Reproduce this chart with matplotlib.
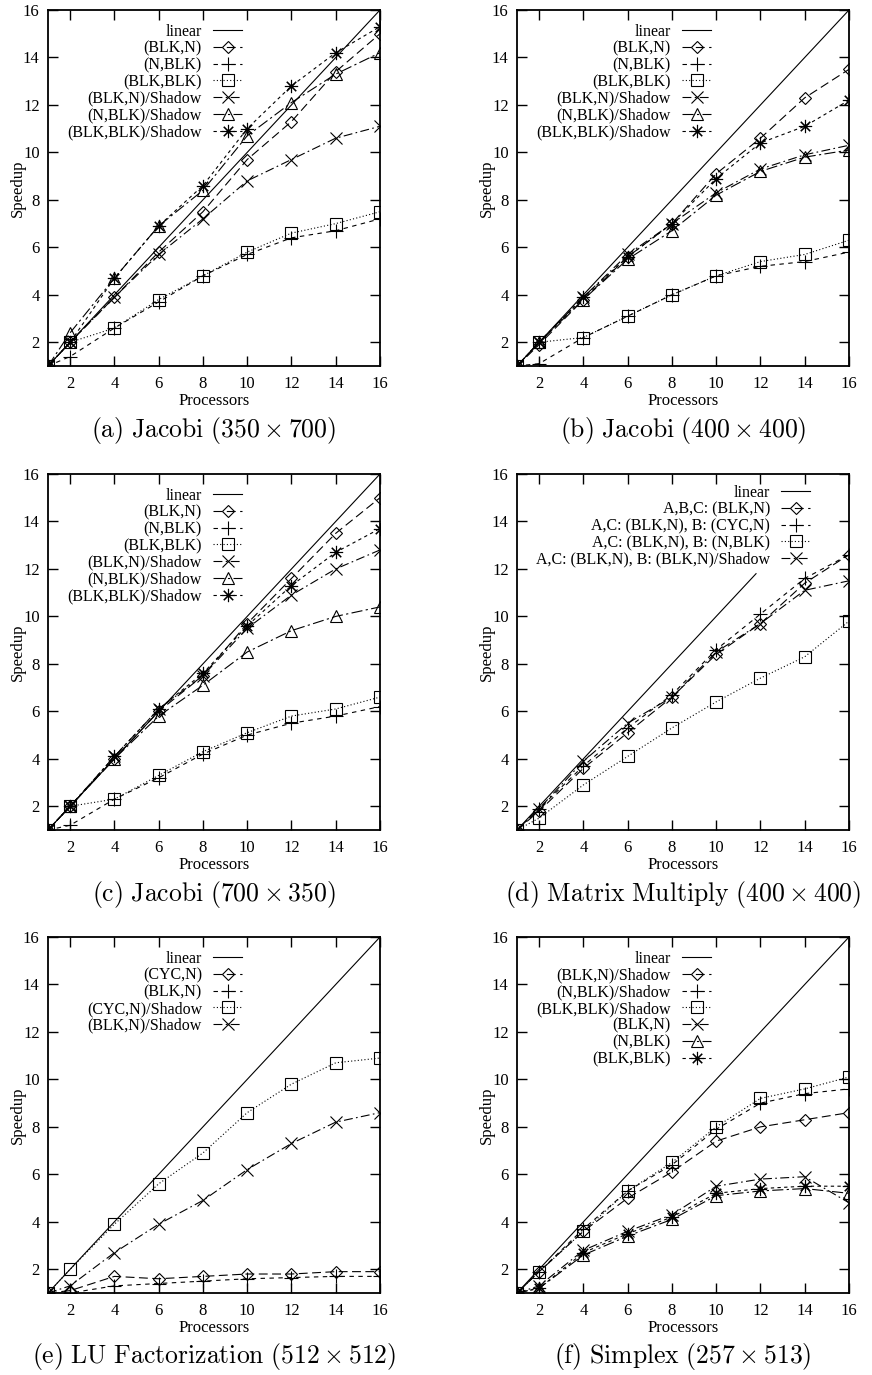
import matplotlib
matplotlib.use('Agg')
import matplotlib.pyplot as plt

plt.rcParams['font.family'] = ['Liberation Serif', 'DejaVu Serif']
plt.rcParams['mathtext.fontset'] = 'cm'

procs = [1, 2, 4, 6, 8, 10, 12, 14, 16]
linear_x = [1, 16]
linear_x_d = [1, 11.8]   # line stops under the key in (d)

six_labels = ['(BLK,N)', '(N,BLK)', '(BLK,BLK)',
              '(BLK,N)/Shadow', '(N,BLK)/Shadow', '(BLK,BLK)/Shadow']

# (a) Jacobi 350 x 700
a_blk_n = [1, 2.0, 3.9, 5.8, 7.5, 9.7, 11.3, 13.4, 15.0]
a_n_blk = [1, 1.4, 2.6, 3.7, 4.8, 5.7, 6.4, 6.7, 7.2]
a_blk_blk = [1, 2.0, 2.6, 3.8, 4.8, 5.8, 6.6, 7.0, 7.5]
a_blk_n_sh = [1, 2.0, 3.9, 5.7, 7.2, 8.8, 9.7, 10.6, 11.1]
a_n_blk_sh = [1, 2.4, 4.7, 6.9, 8.4, 10.7, 12.1, 13.3, 14.2]
a_blk_blk_sh = [1, 2.0, 4.7, 6.9, 8.6, 11.0, 12.8, 14.2, 15.3]

# (b) Jacobi 400 x 400
b_blk_n = [1, 1.9, 3.8, 5.6, 7.0, 9.1, 10.6, 12.3, 13.5]
b_n_blk = [1, 1.1, 2.2, 3.1, 4.0, 4.8, 5.2, 5.4, 5.8]
b_blk_blk = [1, 2.0, 2.2, 3.1, 4.0, 4.8, 5.4, 5.7, 6.3]
b_blk_n_sh = [1, 2.0, 3.9, 5.7, 7.0, 8.3, 9.3, 9.9, 10.3]
b_n_blk_sh = [1, 2.0, 3.8, 5.5, 6.7, 8.2, 9.2, 9.8, 10.1]
b_blk_blk_sh = [1, 2.0, 3.9, 5.6, 7.0, 8.9, 10.4, 11.1, 12.2]

# (c) Jacobi 700 x 350
c_blk_n = [1, 2.0, 4.0, 6.0, 7.5, 9.7, 11.6, 13.5, 15.0]
c_n_blk = [1, 1.2, 2.3, 3.2, 4.2, 5.0, 5.5, 5.8, 6.2]
c_blk_blk = [1, 2.0, 2.3, 3.3, 4.3, 5.1, 5.8, 6.1, 6.6]
c_blk_n_sh = [1, 2.0, 4.1, 6.1, 7.5, 9.5, 10.9, 12.0, 12.8]
c_n_blk_sh = [1, 2.0, 4.0, 5.8, 7.1, 8.5, 9.4, 10.0, 10.4]
c_blk_blk_sh = [1, 2.0, 4.1, 6.1, 7.6, 9.6, 11.3, 12.7, 13.7]

# (d) Matrix Multiply 400 x 400
d_labels = ['A,B,C: (BLK,N)', 'A,C: (BLK,N), B: (CYC,N)',
            'A,C: (BLK,N), B: (N,BLK)', 'A,C: (BLK,N), B: (BLK,N)/Shadow']
d_abc = [1, 1.8, 3.6, 5.1, 6.6, 8.4, 9.7, 11.4, 12.6]
d_b_cyc = [1, 1.9, 3.7, 5.3, 6.7, 8.6, 10.1, 11.6, 12.6]
d_b_nblk = [1, 1.5, 2.9, 4.1, 5.3, 6.4, 7.4, 8.3, 9.8]
d_b_shadow = [1, 1.9, 3.9, 5.5, 6.6, 8.5, 9.7, 11.1, 11.5]

# (e) LU Factorization 512 x 512
e_labels = ['(CYC,N)', '(BLK,N)', '(CYC,N)/Shadow', '(BLK,N)/Shadow']
e_cyc_n = [1, 1.1, 1.7, 1.6, 1.7, 1.8, 1.8, 1.9, 1.9]
e_blk_n = [1, 1.0, 1.3, 1.4, 1.5, 1.6, 1.65, 1.7, 1.7]
e_cyc_n_sh = [1, 2.0, 3.9, 5.6, 6.9, 8.6, 9.8, 10.7, 10.9]
e_blk_n_sh = [1, 1.3, 2.7, 3.9, 4.9, 6.2, 7.3, 8.2, 8.6]

# (f) Simplex 257 x 513
f_labels = ['(BLK,N)/Shadow', '(N,BLK)/Shadow', '(BLK,BLK)/Shadow',
            '(BLK,N)', '(N,BLK)', '(BLK,BLK)']
f_blk_n_sh = [1, 1.9, 3.6, 5.0, 6.1, 7.4, 8.0, 8.3, 8.6]
f_n_blk_sh = [1, 1.9, 3.7, 5.3, 6.4, 7.9, 9.0, 9.4, 9.6]
f_blk_blk_sh = [1, 1.9, 3.6, 5.3, 6.5, 8.0, 9.2, 9.6, 10.1]
f_blk_n = [1, 1.3, 2.8, 3.6, 4.3, 5.5, 5.8, 5.9, 4.8]
f_n_blk = [1, 1.2, 2.6, 3.4, 4.1, 5.1, 5.3, 5.4, 5.2]
f_blk_blk = [1, 1.2, 2.7, 3.5, 4.2, 5.2, 5.4, 5.5, 5.5]

captions = [r'$\mathrm{(a)\ Jacobi\ (350}\times\mathrm{700)}$',
            r'$\mathrm{(b)\ Jacobi\ (400}\times\mathrm{400)}$',
            r'$\mathrm{(c)\ Jacobi\ (700}\times\mathrm{350)}$',
            r'$\mathrm{(d)\ Matrix\ Multiply\ (400}\times\mathrm{400)}$',
            r'$\mathrm{(e)\ LU\ Factorization\ (512}\times\mathrm{512)}$',
            r'$\mathrm{(f)\ Simplex\ (257}\times\mathrm{513)}$']

# gnuplot-ish point/dash types, in plotting order
styles = [
    dict(marker='D', ms=6.5, ls=(0, (8, 4))),
    dict(marker='+', ms=9.5, ls=(0, (4, 4))),
    dict(marker='s', ms=8, ls=(0, (1, 2))),
    dict(marker='x', ms=8.5, ls=(0, (8, 3, 1.5, 3))),
    dict(marker='^', ms=8.5, ls=(0, (10, 3, 2, 3))),
    dict(marker=(8, 2, 0), ms=9.5, ls=(0, (3, 3))),
]

panels = [
    (linear_x, six_labels, [a_blk_n, a_n_blk, a_blk_blk, a_blk_n_sh, a_n_blk_sh, a_blk_blk_sh], 0.584, 0.962),
    (linear_x, six_labels, [b_blk_n, b_n_blk, b_blk_blk, b_blk_n_sh, b_n_blk_sh, b_blk_blk_sh], 0.584, 0.962),
    (linear_x, six_labels, [c_blk_n, c_n_blk, c_blk_blk, c_blk_n_sh, c_n_blk_sh, c_blk_blk_sh], 0.584, 0.962),
    (linear_x_d, d_labels, [d_abc, d_b_cyc, d_b_nblk, d_b_shadow], 0.883, 0.97),
    (linear_x, e_labels, [e_cyc_n, e_blk_n, e_cyc_n_sh, e_blk_n_sh], 0.584, 0.962),
    (linear_x, f_labels, [f_blk_n_sh, f_n_blk_sh, f_blk_blk_sh, f_blk_n, f_n_blk, f_blk_blk], 0.584, 0.962),
]

W, H = 872, 1375
fig = plt.figure(figsize=(W / 100, H / 100), dpi=100)

col_left = [48, 517]
row_top = [10, 474, 937]
ax_w, ax_h = 332, 356

for i, (lin, labels, series, kx, ky) in enumerate(panels):
    left = col_left[i % 2]
    top = row_top[i // 2]
    ax = fig.add_axes([left / W, 1 - (top + ax_h) / H, ax_w / W, ax_h / H])

    ax.plot(lin, lin, color='black', lw=0.8, label='linear')
    for vals, lab, st in zip(series, labels, styles):
        ax.plot(procs, vals, color='black', lw=0.8, marker=st['marker'],
                ms=st['ms'], mfc='none', mew=0.8, linestyle=st['ls'],
                label=lab)

    ax.set_xlim(1, 16)
    ax.set_ylim(1, 16)
    ax.set_xticks(range(2, 17, 2))
    ax.set_yticks(range(2, 17, 2))
    ax.tick_params(direction='in', top=True, right=True, length=7.5,
                   width=1, labelsize=12)
    ax.tick_params(axis='x', pad=7)
    ax.tick_params(axis='y', pad=6)
    for sp in ax.spines.values():
        sp.set_linewidth(1.3)

    ax.set_xlabel('Processors', fontsize=12)
    ax.set_ylabel('Speedup', fontsize=12)
    ax.xaxis.set_label_coords(0.5, -0.077)
    ax.yaxis.set_label_coords(-0.068, 0.5)

    leg = ax.legend(loc='upper right', bbox_to_anchor=(kx, ky),
                    markerfirst=False, frameon=False, fontsize=11.5,
                    handlelength=1.8, handletextpad=0.7,
                    labelspacing=0.05, borderpad=0, borderaxespad=0)

    ax.annotate(captions[i], xy=(0.5, 0), xycoords='axes fraction',
                xytext=(0, -64 * 0.72), textcoords='offset points',
                ha='center', va='center', fontsize=18.5)

fig.savefig('out.png', dpi=100)
plt.close()
